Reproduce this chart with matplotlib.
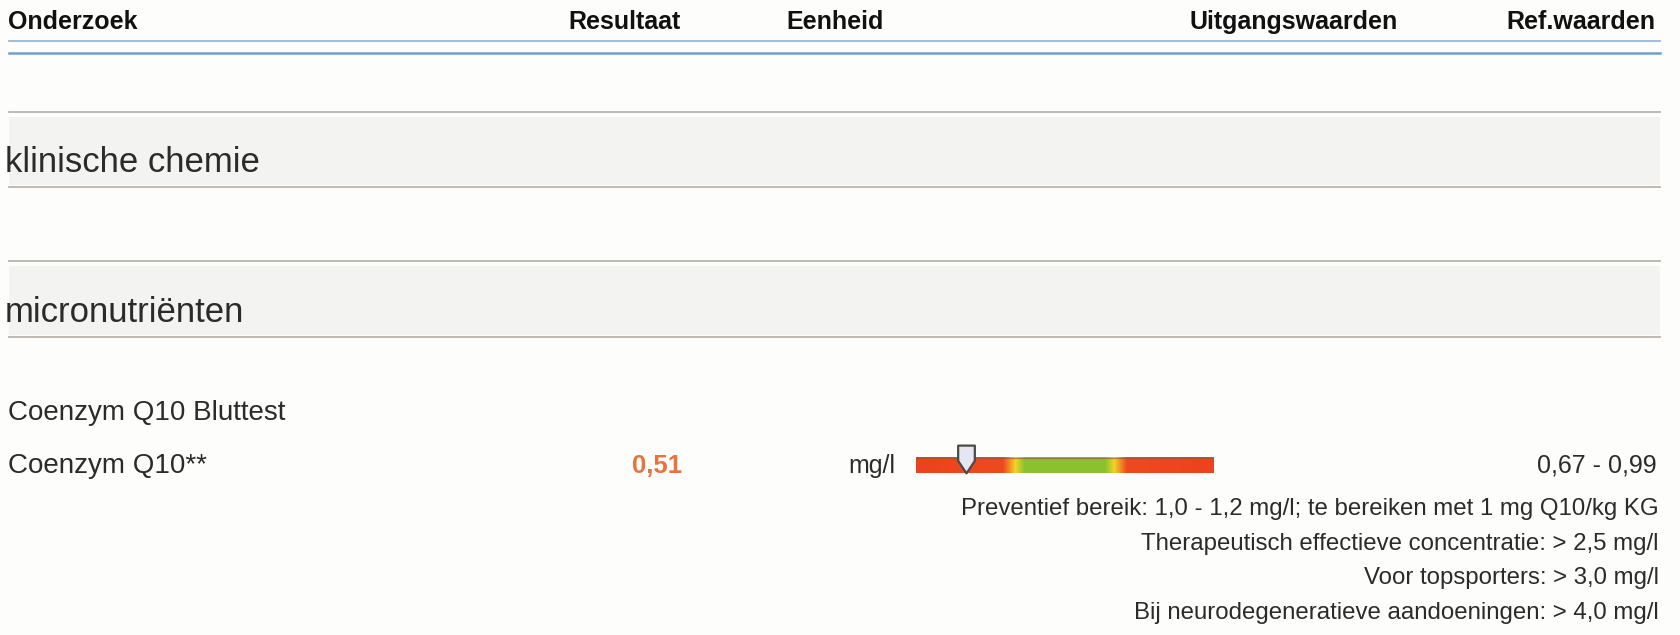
import numpy as np
import matplotlib
matplotlib.use("Agg")
import matplotlib.pyplot as plt
from matplotlib.colors import LinearSegmentedColormap, Normalize
from matplotlib.path import Path

# ---------------- data ----------------
header_labels = ["Onderzoek", "Resultaat", "Eenheid", "Uitgangswaarden", "Ref.waarden"]
section_titles = ["klinische chemie", "micronutriënten"]
test_group = "Coenzym Q10 Bluttest"
test_name = "Coenzym Q10**"
result_value = 0.51
result_label = "0,51"
unit = "mg/l"
ref_low = 0.67
ref_high = 0.99
ref_label = "0,67 - 0,99"
gauge_range = (0.35, 1.31)
notes = [
    "Preventief bereik: 1,0 - 1,2 mg/l; te bereiken met 1 mg Q10/kg KG",
    "Therapeutisch effectieve concentratie: > 2,5 mg/l",
    "Voor topsporters: > 3,0 mg/l",
    "Bij neurodegeneratieve aandoeningen: > 4,0 mg/l",
]

# ---------------- figure ----------------
plt.rcParams['font.family'] = ['Liberation Sans', 'DejaVu Sans']
W, H = 1681, 635
fig = plt.figure(figsize=(W / 100, H / 100), dpi=100)
fig.patch.set_facecolor('#fdfdfc')
ax = fig.add_axes([0, 0, 1, 1])
ax.set_xlim(0, W)
ax.set_ylim(H, 0)
ax.axis('off')

txt = '#2b2b2b'
XL, XR = 9, 1660

# header
hx = [8, 568, 786, 1190, 1655]
ha = ['left', 'left', 'left', 'left', 'right']
for lab, x, a in zip(header_labels, hx, ha):
    ax.text(x, 29, lab, ha=a, va='baseline', fontsize=18, fontweight='bold', color='#111111')
ax.plot([XL, XR], [41, 41], color='#9bb8d6', lw=1.3)
ax.plot([XL, XR], [52.5, 52.5], color='#6f9fd2', lw=1.8)

# section bands
for title, (ytop, ybot) in zip(section_titles, [(111.5, 186.5), (260.5, 336.5)]):
    ax.fill_between([XL, XR], ytop + 5, ybot - 2, color='#f3f3f1', lw=0)
    ax.plot([XL, XR], [ytop, ytop], color='#b9b3ad', lw=1.3)
    ax.plot([XL, XR], [ybot, ybot], color='#b9b3ad', lw=1.3)
    ax.text(5, ybot - 15, title, ha='left', va='baseline', fontsize=25, color=txt)

# test rows
ax.text(8, 420, test_group, ha='left', va='baseline', fontsize=20, color=txt)
ax.text(8, 473, test_name, ha='left', va='baseline', fontsize=20, color=txt)
ax.text(657, 473, result_label, ha='center', va='baseline', fontsize=18.5,
        fontweight='bold', color='#e8733c')
ax.text(895, 473, unit, ha='right', va='baseline', fontsize=18, color=txt)
ax.text(1657, 473, ref_label, ha='right', va='baseline', fontsize=18, color=txt)

for i, n in enumerate(notes):
    ax.text(1659, 515 + i * 34.6, n, ha='right', va='baseline', fontsize=17.3, color=txt)

# ---------------- gauge ----------------
bx0, bx1 = 916, 1214
by_top, by_bot = 444, 473
gax = fig.add_axes([bx0 / W, 1 - by_bot / H, (bx1 - bx0) / W, (by_bot - by_top) / H])
gax.set_xlim(*gauge_range)
gax.axis('off')
gmin, gmax = gauge_range
span = gmax - gmin
def pos(v):
    return (v - gmin) / span
stops = [
    (0.0, '#ec4220'),
    (pos(ref_low - 0.04), '#ee4a1e'),
    (pos(ref_low), '#f2d42a'),
    (pos(ref_low + 0.03), '#8cc030'),
    (pos(ref_high - 0.03), '#8cc030'),
    (pos(ref_high), '#f0d42a'),
    (pos(ref_high + 0.04), '#ee4a1e'),
    (1.0, '#ec4220'),
]
cmap = LinearSegmentedColormap.from_list('gauge', stops)
vals = np.linspace(gmin, gmax, 600).reshape(1, -1)
bar_h = 0.52
gax.imshow(vals, cmap=cmap, norm=Normalize(gmin, gmax), aspect='auto',
           extent=(gmin, gmax, 0, bar_h), interpolation='bilinear')
gax.plot([gmin, gmax], [bar_h, bar_h], color='#8a5a30', lw=0.9, alpha=0.6)

verts = [(-0.6, 1.0), (0.6, 1.0), (0.6, -0.1), (0.0, -1.0), (-0.6, -0.1), (-0.6, 1.0)]
codes = [Path.MOVETO, Path.LINETO, Path.LINETO, Path.LINETO, Path.LINETO, Path.CLOSEPOLY]
pin = Path(verts, codes)
gax.plot([result_value], [0.48], marker=pin, markersize=20, markerfacecolor='#e6e6f2',
         markeredgecolor='#4a4a4a', markeredgewidth=1.6, clip_on=False)
gax.set_xlim(*gauge_range)
gax.set_ylim(0, 1)

fig.savefig('out.png', dpi=100, facecolor=fig.get_facecolor())
